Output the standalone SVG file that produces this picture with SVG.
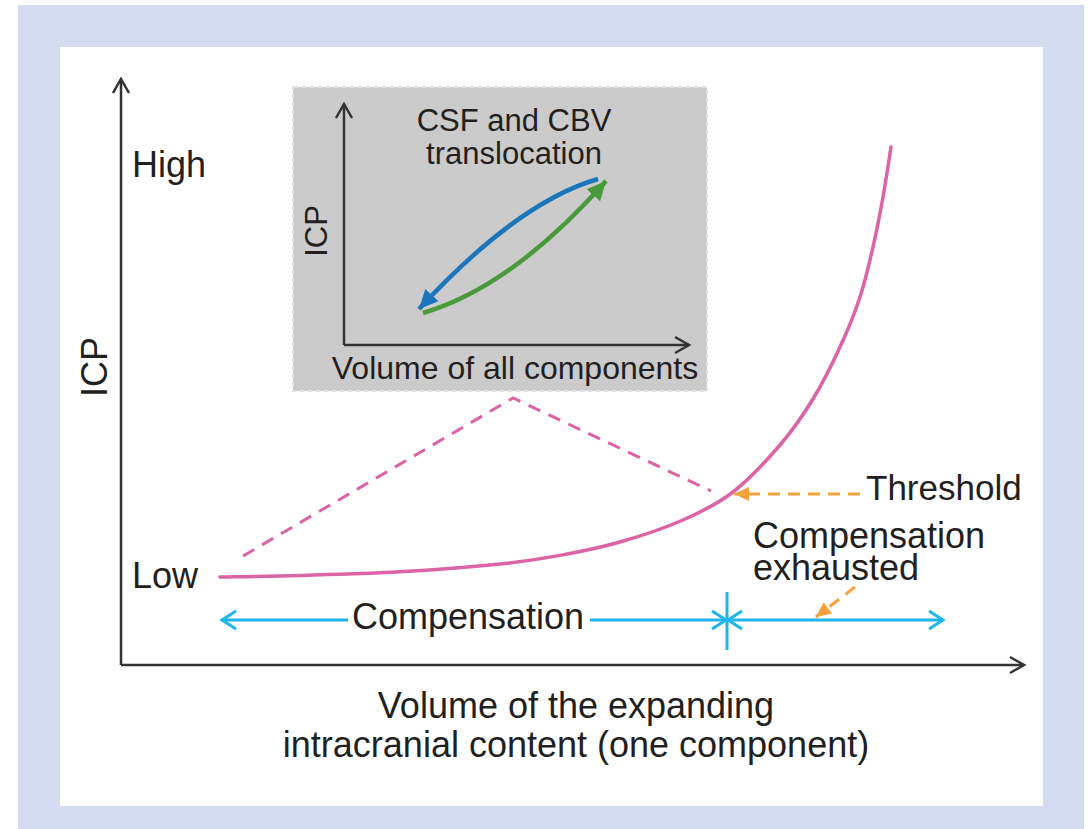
<svg xmlns="http://www.w3.org/2000/svg" width="1091" height="829" viewBox="0 0 1091 829">
<style>
.t{font-family:"Liberation Sans",Arial,sans-serif;fill:#231f20}
.m{font-size:36px}
.i{font-size:31px}
.ax{stroke:#333;stroke-width:2.5;fill:none}
.cy{stroke:#1cb6ea;stroke-width:3;fill:none}
.or{stroke:#f5a13c;stroke-width:3;fill:none;stroke-dasharray:12 8}
</style>
<defs>
<marker id="open" viewBox="0 0 20 20" refX="17" refY="10" markerWidth="20" markerHeight="20" markerUnits="userSpaceOnUse" orient="auto-start-reverse">
<path d="M3,2 L17,10 L3,18" fill="none" stroke="#333" stroke-width="2.5"/>
</marker>
<marker id="cyo" viewBox="0 0 24 24" refX="21" refY="12" markerWidth="24" markerHeight="24" markerUnits="userSpaceOnUse" orient="auto-start-reverse">
<path d="M7,3 L21,12 L7,21" fill="none" stroke="#1cb6ea" stroke-width="3"/>
</marker>
<marker id="ora" viewBox="0 0 16 16" refX="15" refY="8" markerWidth="16" markerHeight="16" markerUnits="userSpaceOnUse" orient="auto">
<path d="M0,1 L15,8 L0,15 Z" fill="#f5a13c"/>
</marker>
<marker id="blu" viewBox="0 0 20 20" refX="19" refY="10" markerWidth="20" markerHeight="20" markerUnits="userSpaceOnUse" orient="auto">
<path d="M0,1 L19,10 L0,19 Z" fill="#1b75bb"/>
</marker>
<marker id="grn" viewBox="0 0 20 20" refX="19" refY="10" markerWidth="20" markerHeight="20" markerUnits="userSpaceOnUse" orient="auto">
<path d="M0,1 L19,10 L0,19 Z" fill="#4a9a3c"/>
</marker>
</defs>
<rect x="0" y="0" width="1091" height="829" fill="#ffffff"/>
<rect x="18" y="5" width="1066" height="824" fill="#d3dcee"/>
<rect x="60" y="47" width="983" height="759" fill="#ffffff"/>

<g id="main-axes">
<path class="ax" d="M121,665 L121,79" marker-end="url(#open)"/>
<path class="ax" d="M121,665 L1024,665" marker-end="url(#open)"/>
<text class="t m" x="132" y="177">High</text>
<text class="t m" x="132" y="588">Low</text>
<text class="t m" transform="translate(107,367) rotate(-90)" text-anchor="middle">ICP</text>
<text class="t m" x="576" y="718" text-anchor="middle">Volume of the expanding</text>
<text class="t m" x="576" y="757" text-anchor="middle">intracranial content (one component)</text>
</g>

<g id="inset">
<rect x="293" y="87" width="414" height="304" fill="#cbcbcb" stroke="#e2e2e2" stroke-width="2" stroke-dasharray="5 3"/>
<path class="ax" d="M344,345 L344,104" marker-end="url(#open)"/>
<path class="ax" d="M344,345 L689,345" marker-end="url(#open)"/>
<text class="t i" x="514" y="131" text-anchor="middle">CSF and CBV</text>
<text class="t i" x="514" y="164" text-anchor="middle">translocation</text>
<text class="t" style="font-size:32px" x="515" y="379" text-anchor="middle">Volume of all components</text>
<text class="t i" transform="translate(327,231) rotate(-90)" text-anchor="middle">ICP</text>
<path d="M598,179 Q518,202 419,309" fill="none" stroke="#1b75bb" stroke-width="4.5" marker-end="url(#blu)"/>
<path d="M423,313 Q512,287 606,181" fill="none" stroke="#4a9a3c" stroke-width="4.5" marker-end="url(#grn)"/>
</g>

<g id="curve">
<path fill="none" stroke="#dc63a6" stroke-width="3.5" stroke-linecap="round" d="M220,577 C233.3,576.75 270,576.4 300,575.5 C330,574.6 366.7,573.7 400,571.8 C433.3,569.9 473.3,566.7 500,564 C526.7,561.3 540,559.1 560,555.4 C580,551.7 599.5,547.9 620,542 C640.5,536.1 664.2,528.3 683,520 C701.8,511.7 716.8,504.5 733,492 C749.2,479.5 766.7,460.5 780,445 C793.3,429.5 803,415.3 813,399 C823,382.7 832.2,364 840,347 C847.8,330.3 854.5,313.7 860,297 C865.5,280.3 869.2,263.7 873,247 C876.8,230.3 880,213.7 883,197 C886,180.3 889.7,155.3 891,147"/>
</g>

<g id="connectors">
<path d="M243,556 L513,398 L711,491" fill="none" stroke="#dc63a6" stroke-width="3" stroke-dasharray="13 9"/>
<path class="or" d="M860,494 L734,494" marker-end="url(#ora)"/>
<path class="or" d="M855,587 L816,617" marker-end="url(#ora)"/>
<path class="cy" d="M348,620 L222,620" marker-end="url(#cyo)"/>
<path class="cy" d="M590,620 L726,620" marker-end="url(#cyo)"/>
<path class="cy" d="M728,620 L943,620" marker-start="url(#cyo)" marker-end="url(#cyo)"/>
<path class="cy" d="M727,592 L727,650"/>
</g>

<g id="labels">
<text class="t m" x="468" y="629" text-anchor="middle">Compensation</text>
<text class="t" style="font-size:35px" x="866" y="500">Threshold</text>
<text class="t m" x="753" y="548">Compensation</text>
<text class="t m" x="753" y="580">exhausted</text>
</g>
</svg>
